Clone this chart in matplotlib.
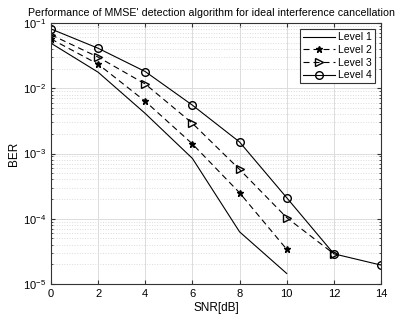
import matplotlib
matplotlib.use("Agg")
import matplotlib.pyplot as plt
from matplotlib.ticker import LogLocator, NullFormatter

plt.rcParams['font.family'] = ['Liberation Sans', 'DejaVu Sans']

# SNR points and BER per level
snr_l1 = [0, 2, 4, 6, 8, 10]
ber_l1 = [0.049, 0.0176, 0.0041, 8.4e-4, 6.3e-5, 1.45e-5]
snr_l2 = [0, 2, 4, 6, 8, 10]
ber_l2 = [0.057, 0.0234, 0.0063, 0.0014, 2.5e-4, 3.4e-5]
snr_l3 = [0, 2, 4, 6, 8, 10, 12]
ber_l3 = [0.066, 0.030, 0.0116, 0.0029, 5.7e-4, 1.04e-4, 2.9e-5]
snr_l4 = [0, 2, 4, 6, 8, 10, 12, 14]
ber_l4 = [0.081, 0.041, 0.018, 0.0055, 0.0015, 2.1e-4, 2.9e-5, 1.95e-5]

fig = plt.figure(figsize=(4.09, 3.2), dpi=100)
ax = fig.add_axes([51/409, 36/320, 330/409, 261/320])

dash = (5.4, 3.6)
ax.semilogy(snr_l1, ber_l1, '-', color='k', lw=0.8, label='Level 1')
ax.semilogy(snr_l2, ber_l2, '--', dashes=dash, color='k', lw=0.8, marker='*', ms=4.5, label='Level 2')
ax.semilogy(snr_l3, ber_l3, '--', dashes=dash, color='k', lw=0.8, marker='>', ms=5.5, mfc='none', label='Level 3')
ax.semilogy(snr_l4, ber_l4, '-', color='k', lw=0.8, marker='o', ms=5.5, mfc='none', label='Level 4')

ax.set_xlim(0, 14)
ax.set_ylim(1e-5, 1e-1)
ax.set_xticks(range(0, 15, 2))
ax.yaxis.set_major_locator(LogLocator(base=10, numticks=10))
ax.yaxis.set_minor_locator(LogLocator(base=10, subs=range(2, 10), numticks=20))
ax.yaxis.set_minor_formatter(NullFormatter())

ax.grid(True, which='major', color='#dcdcdc', lw=0.7)
ax.grid(True, which='minor', axis='y', color='#dcdcdc', ls=':', lw=0.7)
ax.set_axisbelow(True)
ax.tick_params(which='both', direction='in', top=True, right=True, labelsize=8, color='#333333')
ax.tick_params(which='major', length=3)
ax.tick_params(which='minor', length=1.5)
for s in ax.spines.values():
    s.set_color('#333333')
    s.set_linewidth(0.8)

ax.set_xlabel('SNR[dB]', fontsize=8.5, labelpad=2)
ax.set_ylabel('BER', fontsize=8.5, labelpad=2)
ax.set_title("Performance of MMSE' detection algorithm for ideal interference cancellation",
             fontsize=7.7, pad=5, x=0.486)

leg = ax.legend(loc='upper right', fontsize=7.5, fancybox=False, framealpha=1,
                edgecolor='#333333', borderpad=0.3, labelspacing=0.25,
                handlelength=3.0, handletextpad=0.3, borderaxespad=0.6)
leg.get_frame().set_linewidth(0.8)

fig.savefig('out.png', dpi=100)
